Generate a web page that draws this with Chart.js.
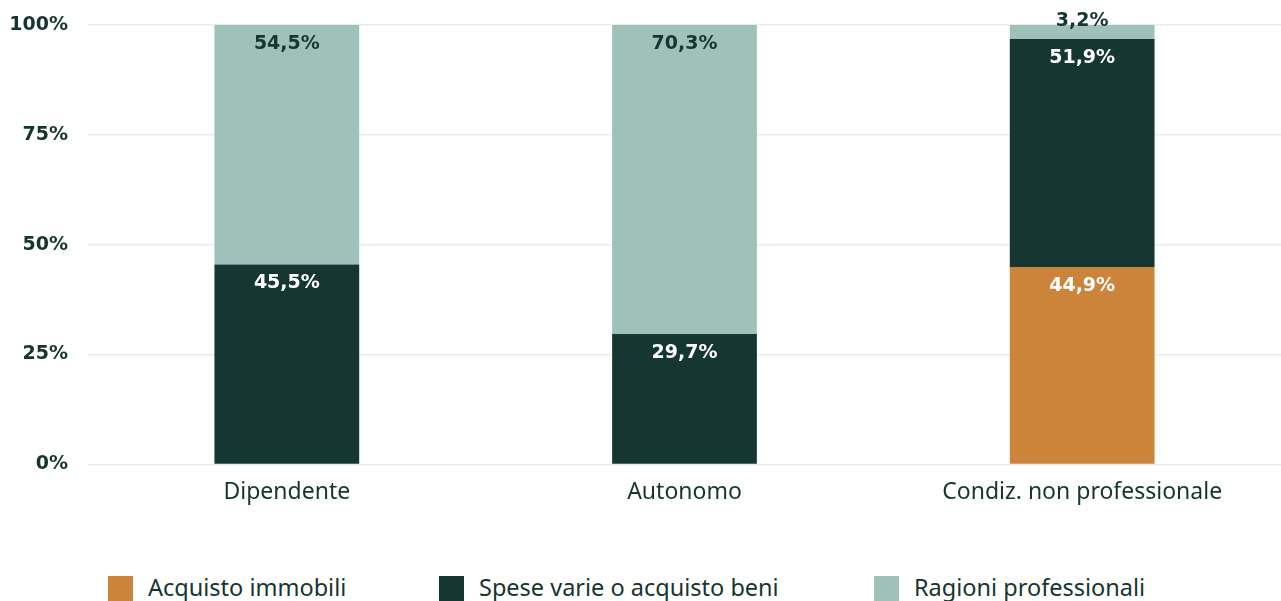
<!DOCTYPE html>
<html>
<head>
<meta charset="utf-8">
<script src="https://cdn.jsdelivr.net/npm/chart.js@4.4.1/dist/chart.umd.min.js"></script>
<style>
  html, body { margin: 0; padding: 0; background: #ffffff; overflow: hidden; }
  #wrap { position: absolute; left: 0; top: 0; width: 1281px; height: 520px; }
  #legend { position: absolute; left: 0; top: 576px; width: 1281px; height: 40px; }
  .item { position: absolute; top: 0; height: 25px; display: flex; align-items: flex-start; }
  .box { width: 25px; height: 25px; flex: none; }
  .txt { margin-left: 15px; font-family: "Noto Sans", sans-serif; font-size: 23.5px; line-height: 25px; color: #16352f; white-space: nowrap; position: relative; top: -1px; }
</style>
</head>
<body>
<div id="wrap"><canvas id="c"></canvas></div>
<div id="legend"></div>
<script>
const categories = ["Dipendente", "Autonomo", "Condiz. non professionale"];
const seriesNames = ["Acquisto immobili", "Spese varie o acquisto beni", "Ragioni professionali"];
const acquistoImmobili = [0, 0, 44.9];
const speseVarie = [45.5, 29.7, 51.9];
const ragioniProfessionali = [54.5, 70.3, 3.2];
const yTicks = [0, 25, 50, 75, 100];

const colors = ["#cc843b", "#163631", "#9ec2ba"];
const labelColors = ["#ffffff", "#ffffff", "#163631"];
const ink = "#16352f";

const valueLabels = {
  id: "valueLabels",
  afterDatasetsDraw(chart) {
    const ctx = chart.ctx;
    ctx.save();
    ctx.font = "bold 19px 'DejaVu Sans', sans-serif";
    ctx.textAlign = "center";
    ctx.textBaseline = "middle";
    chart.data.datasets.forEach((ds, di) => {
      const meta = chart.getDatasetMeta(di);
      meta.data.forEach((el, i) => {
        const v = ds.data[i];
        if (!v) return;
        const top = Math.min(el.y, el.base);
        const h = Math.abs(el.base - el.y);
        const txt = v.toFixed(1).replace(".", ",") + "%";
        let y, col;
        if (h < 36) {
          y = top - 4;
          col = ink;
        } else {
          y = top + 19;
          col = labelColors[di];
        }
        ctx.fillStyle = col;
        ctx.fillText(txt, el.x, y);
      });
    });
    ctx.restore();
  }
};

const seriesData = [acquistoImmobili, speseVarie, ragioniProfessionali];

new Chart(document.getElementById("c"), {
  type: "bar",
  data: {
    labels: categories,
    datasets: seriesNames.map((n, k) => ({
      label: n,
      data: seriesData[k],
      backgroundColor: colors[k],
      borderWidth: 0,
      barPercentage: 0.364,
      categoryPercentage: 1.0
    }))
  },
  options: {
    responsive: true,
    maintainAspectRatio: false,
    animation: false,
    layout: { padding: { top: 25, left: 0, right: 0, bottom: 0 } },
    plugins: { legend: { display: false }, tooltip: { enabled: false } },
    scales: {
      x: {
        stacked: true,
        grid: { display: false, drawTicks: false },
        border: { display: false },
        ticks: { color: ink, font: { family: "'Noto Sans', sans-serif", size: 23 }, padding: 14 }
      },
      y: {
        stacked: true,
        min: 0, max: 100,
        afterBuildTicks(scale) { scale.ticks = yTicks.map(v => ({ value: v })); },
        afterFit(scale) { scale.width = 88; scale.paddingTop = 0; scale.paddingBottom = 0; },
        grid: { color: "#ececec", lineWidth: 1.5, drawTicks: false },
        border: { display: false },
        ticks: {
          color: ink,
          font: { family: "'DejaVu Sans', sans-serif", size: 19, weight: "bold" },
          padding: 20,
          callback: v => v + "%"
        }
      }
    }
  },
  plugins: [valueLabels]
});

const legendLeft = [108, 439, 874];
const legend = document.getElementById("legend");
seriesNames.forEach((n, k) => {
  const it = document.createElement("div");
  it.className = "item";
  it.style.left = legendLeft[k] + "px";
  const b = document.createElement("div");
  b.className = "box";
  b.style.background = colors[k];
  const t = document.createElement("span");
  t.className = "txt";
  t.textContent = n;
  it.appendChild(b); it.appendChild(t);
  legend.appendChild(it);
});
</script>
</body>
</html>
